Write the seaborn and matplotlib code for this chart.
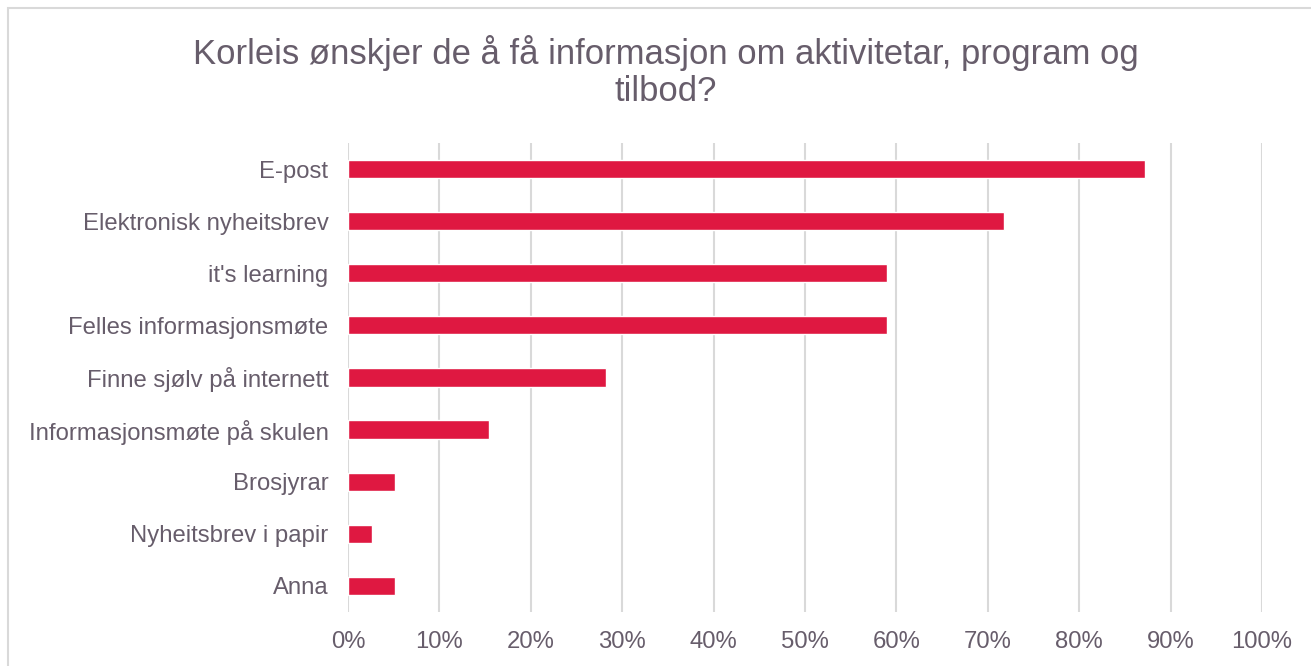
import pandas as pd
import matplotlib.pyplot as plt
import seaborn as sns
from matplotlib.patches import Rectangle
from matplotlib.ticker import PercentFormatter

# Survey answers (share of respondents)
categories = ['E-post', 'Elektronisk nyheitsbrev', "it's learning", 'Felles informasjonsmøte',
              'Finne sjølv på internett', 'Informasjonsmøte på skulen', 'Brosjyrar',
              'Nyheitsbrev i papir', 'Anna']
shares = [87.2, 71.8, 59.0, 59.0, 28.2, 15.4, 5.1, 2.6, 5.1]
x_ticks = [0, 10, 20, 30, 40, 50, 60, 70, 80, 90, 100]
title = 'Korleis ønskjer de å få informasjon om aktivitetar, program og\ntilbod?'

df = pd.DataFrame({'kategori': categories, 'andel': shares})

sns.set_theme(style='white')
plt.rcParams['font.family'] = ['Liberation Sans', 'DejaVu Sans']
text_col = '#675D6B'

fig = plt.figure(figsize=(13.11, 6.66), dpi=100)
ax = fig.add_axes([0.2654, 0.0811, 0.6972, 0.7042])

sns.barplot(data=df, x='andel', y='kategori', color='#DF1841', width=0.35,
            saturation=1, ax=ax, zorder=3)

ax.set_xlim(0, 100)
ax.set_ylim(8.5, -0.5)
ax.set_xticks(x_ticks)
ax.xaxis.set_major_formatter(PercentFormatter(decimals=0))
ax.grid(axis='x', color='#D9D9D9', linewidth=1.5, zorder=0)
ax.set_xlabel('')
ax.set_ylabel('')
for s in ax.spines.values():
    s.set_visible(False)
ax.tick_params(axis='both', length=0, labelsize=17.2, labelcolor=text_col)
ax.tick_params(axis='x', pad=14)
ax.tick_params(axis='y', pad=14)

fig.text(0.508, 0.893, title, ha='center', va='center', fontsize=24.9,
         color=text_col, linespacing=1.15)

# light outer frame, cut off at the right and bottom
fig.patches.append(Rectangle((8 / 1311, -0.05), 1.2, 1 - 8 / 666 + 0.05,
                             transform=fig.transFigure, fill=False,
                             edgecolor='#D9D9D9', linewidth=1.5, zorder=0))

plt.savefig('out.png', dpi=100)
plt.close()
